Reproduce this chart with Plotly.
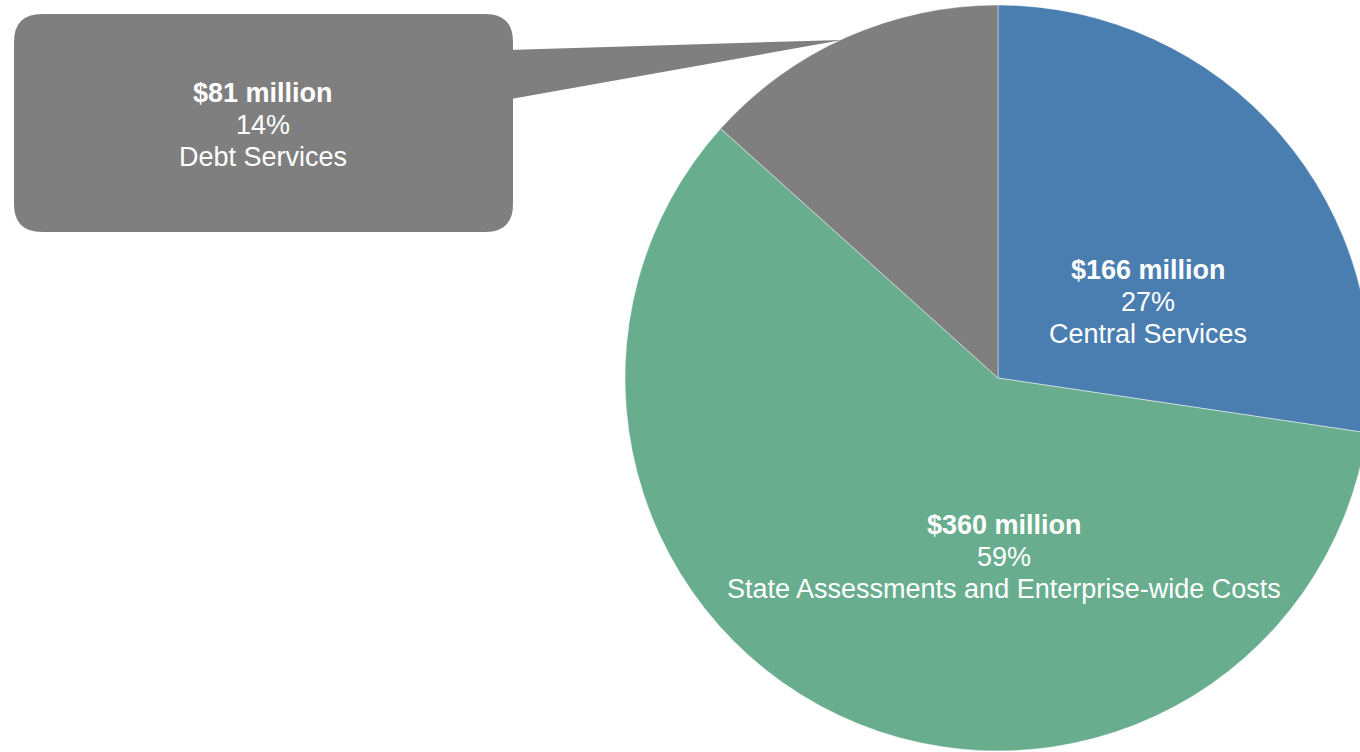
import plotly.graph_objects as go

# ---- data ----
categories = ["Central Services", "State Assessments and Enterprise-wide Costs", "Debt Services"]
amounts_musd = [166, 360, 81]
percent_labels = [27, 59, 14]
colors = ["#4A7EB1", "#69AD8F", "#7F7F7F"]

W, H = 1371, 752

def px(x):
    return x / W

def py(y):
    return 1 - y / H

# pie geometry (pixels)
cx, cy, r = 998, 378, 373

fig = go.Figure(
    go.Pie(
        labels=categories,
        values=amounts_musd,
        sort=False,
        direction="clockwise",
        rotation=0,
        marker=dict(colors=colors, line=dict(color="rgba(255,255,255,0.45)", width=1)),
        textinfo="none",
        hoverinfo="label+value+percent",
        showlegend=False,
        domain=dict(x=[px(cx - r), px(cx + r)], y=[py(cy + r), py(cy - r)]),
    )
)

FONT_FAMILY = "Liberation Sans, Arial, sans-serif"
FS = 27

def add_label(i, x, y_first, gap=32):
    lines = [f"<b>${amounts_musd[i]} million</b>", f"{percent_labels[i]}%", categories[i]]
    for k, t in enumerate(lines):
        fig.add_annotation(x=px(x), y=py(y_first + k * gap), xref="paper", yref="paper",
                           xanchor="center", yanchor="middle",
                           text=t, showarrow=False,
                           font=dict(family=FONT_FAMILY, size=FS, color="white"),
                           align="center")

# slice labels
add_label(0, 1148, 270)
add_label(1, 1004, 525)

# callout box for debt services
x0, y0, x1, y1, rr = 14, 14, 513, 232, 28
def P(x, y):
    return f"{px(x)},{py(y)}"

box_path = (
    f"M {P(x0 + rr, y0)} L {P(x1 - rr, y0)} Q {P(x1, y0)} {P(x1, y0 + rr)} "
    f"L {P(x1, y1 - rr)} Q {P(x1, y1)} {P(x1 - rr, y1)} "
    f"L {P(x0 + rr, y1)} Q {P(x0, y1)} {P(x0, y1 - rr)} "
    f"L {P(x0, y0 + rr)} Q {P(x0, y0)} {P(x0 + rr, y0)} Z"
)
fig.add_shape(type="path", path=box_path, xref="paper", yref="paper",
              fillcolor=colors[2], line=dict(width=0), layer="above")
wedge_path = f"M {P(505, 50)} L {P(842, 40)} L {P(505, 100)} Z"
fig.add_shape(type="path", path=wedge_path, xref="paper", yref="paper",
              fillcolor=colors[2], line=dict(width=0), layer="above")

add_label(2, 263, 93)

fig.update_layout(
    width=W, height=H,
    margin=dict(l=0, r=0, t=0, b=0),
    paper_bgcolor="white",
    plot_bgcolor="white",
)

fig.write_html(
    "out.html",
    config={"displayModeBar": False},
    post_script="document.body.style.margin='0';document.body.style.overflow='hidden';",
)
